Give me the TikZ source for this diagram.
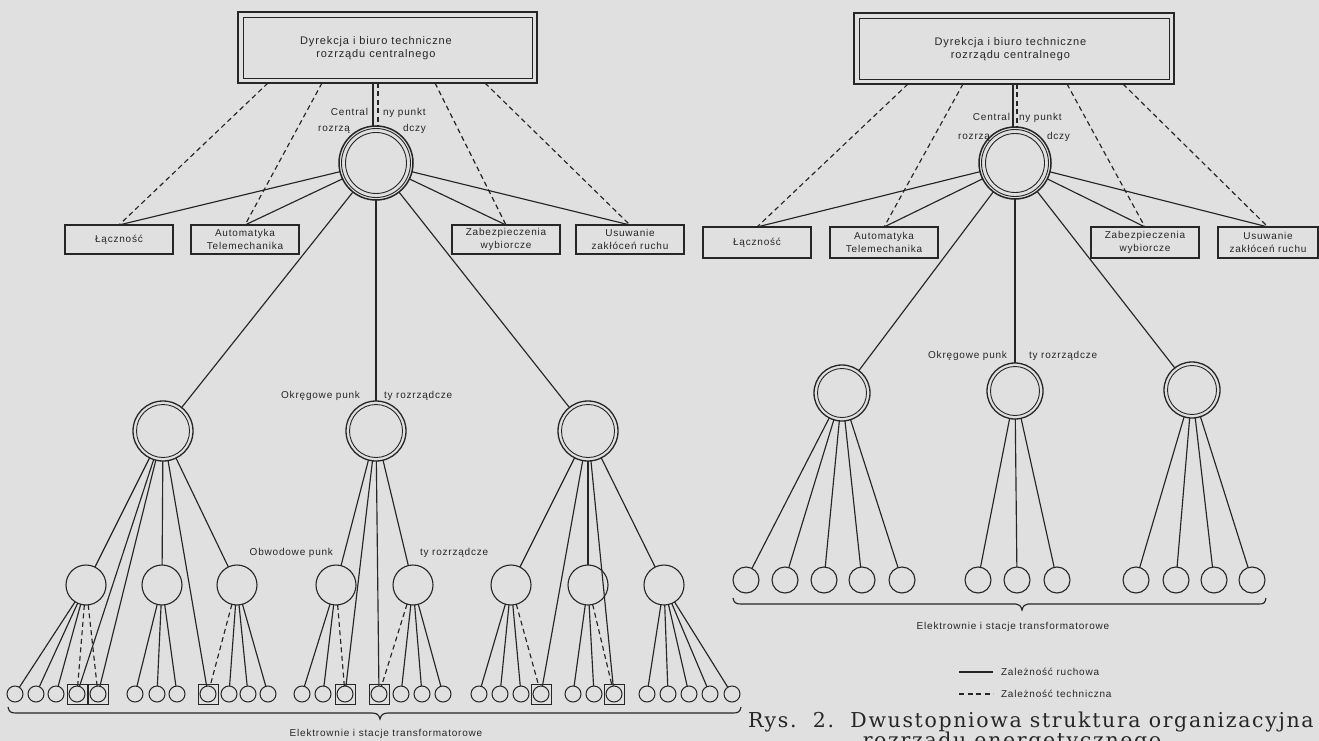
\documentclass[tikz,border=0pt]{standalone}
\usepackage{fontspec}
\newfontfamily\lab[LetterSpace=8]{Liberation Sans}
\newfontfamily\capf[LetterSpace=8]{DejaVu Serif}
\definecolor{ink}{gray}{0.15}
\definecolor{paper}{gray}{0.88}
\begin{document}
\begin{tikzpicture}[x=1pt,y=-1pt,
  every node/.style={inner sep=0pt, outer sep=0pt},
  ln/.style={draw=ink, line width=1.15pt},
  dsh/.style={draw=ink, line width=1.15pt, dash pattern=on 5pt off 3.5pt},
  lbl/.style={font=\lab\fontsize{10}{12}\selectfont, text=ink},
  boxn/.style={draw=ink, line width=1.4pt, minimum width=108pt, minimum height=29pt, align=center, font=\lab\fontsize{10}{13.5}\selectfont, text=ink},
  topb/.style={draw=ink, line width=1.6pt},
  ring/.style={circle, draw=ink, line width=1.3pt},
  stn/.style={circle, draw=ink, line width=1pt, minimum size=16pt},
  sqn/.style={draw=ink, line width=1pt, minimum size=20pt},
  rstn/.style={circle, draw=ink, line width=1.1pt, minimum size=26pt},
  thin/.style={draw=ink, line width=0.9pt},
  capt/.style={font=\capf\fontsize{20.5}{22}\selectfont, text=ink}]
\fill[paper] (0,0) rectangle (1319,741);
\useasboundingbox (0,0) rectangle (1319,741);

% ================= LEFT DIAGRAM =================
\node[topb, minimum width=299pt, minimum height=71pt] (dirL) at (387.5,47.5) {};
\draw[thin] ([shift={(5,5)}]dirL.north west) rectangle ([shift={(-5,-5)}]dirL.south east);
\node[lbl, font=\lab\fontsize{11}{12.7}\selectfont, align=center] (dirLt) at (376,48) {Dyrekcja i biuro techniczne\\rozrządu centralnego};

\node[ring, minimum size=74pt, line width=1.5pt] (cL) at (376,163) {};
\draw[thin] (cL.center) circle[radius=34.5pt];
\draw[thin] (cL.center) circle[radius=30.5pt];

\coordinate (vL1) at (373,83);
\coordinate (vL2) at (378,83);
\draw[ln] (vL1) -- ([xshift=-3pt]cL.north);
\draw[dsh] (vL2) -- ([xshift=2pt]cL.north);

\node[lbl, anchor=base east] (tcL1) at (368,115.5) {Central};
\node[lbl, anchor=base west] (tcL2) at (383,115.5) {ny punkt};
\node[lbl, anchor=base east] (tcL3) at (350,131.5) {rozrzą};
\node[lbl, anchor=base west] (tcL4) at (403,131.5) {dczy};

\node[boxn] (aL1) at (119,239.5) {Łączność};
\node[boxn] (aL2) at (245,239.5) {Automatyka\\Telemechanika};
\node[boxn] (aL3) at (506,239.5) {Zabezpieczenia\\wybiorcze};
\node[boxn] (aL4) at (630,239.5) {Usuwanie\\zakłóceń ruchu};

\coordinate (dL1) at (268,83);
\coordinate (dL2) at (322,83);
\coordinate (dL3) at (435,83);
\coordinate (dL4) at (485,83);
\foreach \i in {1,2,3,4} {
  \draw[ln] (cL) -- (aL\i.north);
  \draw[dsh] (dL\i) -- (aL\i.north);
}

% level 2
\foreach \n/\x in {L1/163,L2/376,L3/588} {
  \node[ring, minimum size=60pt] (\n) at (\x,431) {};
  \draw[thin] (\n.center) circle[radius=26.5pt];
  \draw[ln] (cL) -- (\n);
}
\node[lbl, anchor=base east] (okL1) at (360,398.5) {Okręgowe punk};
\node[lbl, anchor=base west] (okL2) at (384,398.5) {ty rozrządcze};

% level 3
\foreach \n/\x in {S1/86,S2/162,S3/237,S4/336,S5/413,S6/511,S7/588,S8/664} {
  \node[ring, line width=1.1pt, minimum size=40pt] (\n) at (\x,585) {};
}
\node[lbl, anchor=base east] (obL1) at (333,555.5) {Obwodowe punk};
\node[lbl, anchor=base west] (obL2) at (420,555.5) {ty rozrządcze};

% bottom stations
\foreach \i/\x in {1/15,2/36,3/56,4/77,5/98,6/135,7/157,8/177,9/208,10/229,11/248,12/268,13/302,14/323,15/345,16/379,17/401,18/422,19/443,20/479,21/500,22/521,23/541,24/573,25/594,26/614,27/647,28/668,29/689,30/710,31/732} {
  \node[stn] (b\i) at (\x,694) {};
}
\foreach \i in {4,5,9,15,16,23,26} {
  \node[sqn] (q\i) at (b\i) {};
}

% solid connections
\foreach \a/\b in {L1/S1,L1/S2,L1/S3,L1/b4,L1/b5,L1/b9,
  L2/S4,L2/S5,L2/b15,L2/b16,
  L3/S6,L3/S7,L3/S8,L3/b23,L3/b26,
  S1/b1,S1/b2,S1/b3,S2/b6,S2/b7,S2/b8,S3/b10,S3/b11,S3/b12,
  S4/b13,S4/b14,S5/b17,S5/b18,S5/b19,S6/b20,S6/b21,S6/b22,
  S7/b24,S7/b25,S8/b27,S8/b28,S8/b29,S8/b30,S8/b31} {
  \draw[ln] (\a) -- (\b);
}
% dashed connections
\foreach \a/\b in {S1/b4,S1/b5,S3/b9,S4/b15,S5/b16,S6/b23,S7/b26} {
  \draw[dsh] (\a) -- (\b);
}

% brace
\draw[ln] (8,707) .. controls (9,712) and (11,713) .. (16,713) -- (372,713)
  .. controls (377,713) and (379,715) .. (380,719)
  .. controls (381,715) and (383,713) .. (388,713) -- (733,713)
  .. controls (738,713) and (740,712) .. (741,707);
\node[lbl] (elL) at (386,734) {Elektrownie i stacje transformatorowe};

% ================= RIGHT DIAGRAM =================
\node[topb, minimum width=320pt, minimum height=71pt] (dirR) at (1014,48.5) {};
\draw[thin] ([shift={(5,5)}]dirR.north west) rectangle ([shift={(-5,-5)}]dirR.south east);
\node[lbl, font=\lab\fontsize{11}{12.7}\selectfont, align=center] (dirRt) at (1010.5,49.5) {Dyrekcja i biuro techniczne\\rozrządu centralnego};

\node[ring, minimum size=72pt, line width=1.5pt] (cR) at (1015,163) {};
\draw[thin] (cR.center) circle[radius=33.5pt];
\draw[thin] (cR.center) circle[radius=29.5pt];

\coordinate (vR1) at (1013,84);
\coordinate (vR2) at (1017,84);
\draw[ln] (vR1) -- ([xshift=-2pt]cR.north);
\draw[dsh] (vR2) -- ([xshift=2pt]cR.north);

\node[lbl, anchor=base east] (tcR1) at (1010,120.5) {Central};
\node[lbl, anchor=base west] (tcR2) at (1019,120.5) {ny punkt};
\node[lbl, anchor=base east] (tcR3) at (990,139.5) {rozrzą};
\node[lbl, anchor=base west] (tcR4) at (1047,139.5) {dczy};

\node[boxn, minimum height=31pt] (aR1) at (757,242.5) {Łączność};
\node[boxn, minimum height=31pt] (aR2) at (884,242.5) {Automatyka\\Telemechanika};
\node[boxn, minimum height=31pt] (aR3) at (1145,242.5) {Zabezpieczenia\\wybiorcze};
\node[boxn, minimum width=100pt, minimum height=31pt] (aR4) at (1268,242.5) {Usuwanie\\zakłóceń ruchu};

\coordinate (dR1) at (908,84);
\coordinate (dR2) at (963,84);
\coordinate (dR3) at (1067,84);
\coordinate (dR4) at (1123,84);
\foreach \i in {1,2,3,4} {
  \draw[ln] (cR) -- (aR\i.north);
  \draw[dsh] (dR\i) -- (aR\i.north);
}

\foreach \n/\x/\y in {R1/842/393,R2/1015/391,R3/1192/390} {
  \node[ring, minimum size=56pt] (\n) at (\x,\y) {};
  \draw[thin] (\n.center) circle[radius=24.5pt];
  \draw[ln] (cR) -- (\n);
}
\node[lbl, anchor=base east] (okR1) at (1007,358.5) {Okręgowe punk};
\node[lbl, anchor=base west] (okR2) at (1029,358.5) {ty rozrządcze};

\foreach \i/\x/\p in {1/746/R1,2/785/R1,3/824/R1,4/862/R1,5/902/R1,
  6/978/R2,7/1017/R2,8/1057/R2,
  9/1136/R3,10/1176/R3,11/1214/R3,12/1252/R3} {
  \node[rstn] (g\i) at (\x,580) {};
  \draw[ln] (\p) -- (g\i);
}

\draw[ln] (733,598) .. controls (734,603) and (736,604) .. (741,604) -- (1016,604)
  .. controls (1019,604) and (1021,606) .. (1022,610)
  .. controls (1023,606) and (1025,604) .. (1028,604) -- (1259,604)
  .. controls (1264,604) and (1265,603) .. (1266,598);
\node[lbl] (elR) at (1013,627) {Elektrownie i stacje transformatorowe};

% legend
\coordinate (lg1a) at (959,672);
\coordinate (lg1b) at (993,672);
\coordinate (lg2a) at (959,694);
\coordinate (lg2b) at (993,694);
\draw[ln] (lg1a) -- (lg1b);
\draw[dsh] (lg2a) -- (lg2b);
\node[lbl, anchor=base west] (lgt1) at (1001,675.5) {Zależność ruchowa};
\node[lbl, anchor=base west] (lgt2) at (1001,697.5) {Zależność techniczna};

% caption
\node[capt, anchor=base west] (cap1) at (748,727) {Rys.\ \ 2.\ \ Dwustopniowa struktura organizacyjna};
\node[capt, anchor=base] (cap2) at (1012,747) {rozrządu energetycznego};
\end{tikzpicture}
\end{document}
